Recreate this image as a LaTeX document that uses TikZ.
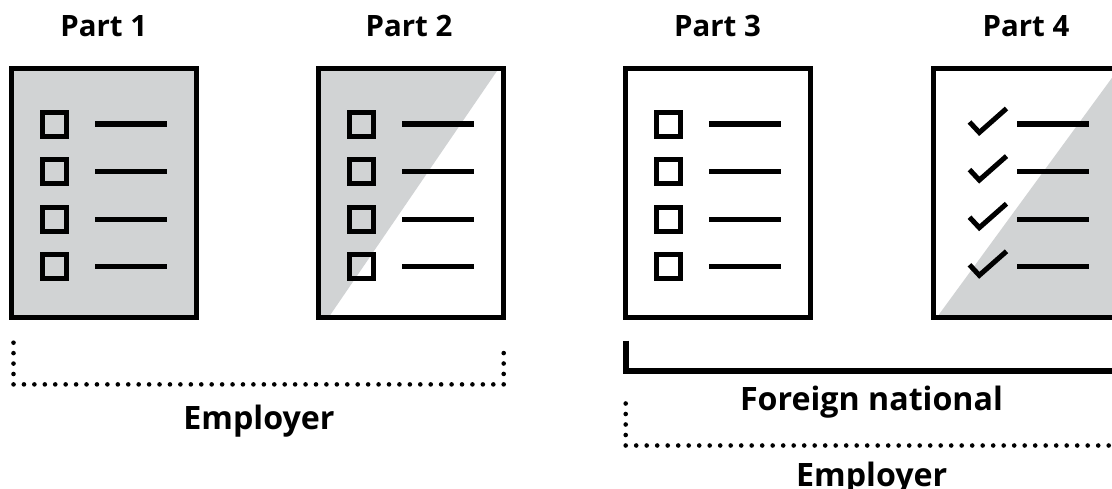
\documentclass[tikz,border=0pt]{standalone}
\usepackage{fontspec}
\setmainfont{Open Sans}
\definecolor{docgray}{RGB}{209,211,212}
\begin{document}
\begin{tikzpicture}[x=1pt,y=-1pt,
  docframe/.style={draw=black,line width=5.2pt},
  boxmark/.style={draw=black,line width=5pt},
  textline/.style={draw=black,line width=5.2pt},
  checkmark/.style={draw=black,line width=5pt,line join=miter},
  partlabel/.style={font=\bfseries\fontsize{29.4}{30}\selectfont,anchor=base,inner sep=0pt},
  grouplabel/.style={font=\bfseries\fontsize{32.2}{34}\selectfont,anchor=base,inner sep=0pt},
  dotlineA/.style={line width=4.6pt,line cap=round,dash pattern=on 0pt off 10.43pt},
  dotlineB/.style={line width=4.6pt,line cap=round,dash pattern=on 0pt off 10.5pt},
  solidbracket/.style={line width=5.8pt,line join=miter}]
\useasboundingbox (0,0) rectangle (1112,488);

% Part 1
\begin{scope}[shift={(11.3,68.6)}]
  \fill[docgray] (0,0) rectangle (185.4,249.1);
  \draw[docframe] (0,0) rectangle (185.4,249.1);
  \foreach \r in {55.4,103,150.6,198.2} {
    \draw[boxmark] (31.4,\r-12) rectangle (55.4,\r+12);
    \draw[textline] (83.7,\r) -- (155.7,\r);
  }
\end{scope}

% Part 2
\begin{scope}[shift={(318.3,68.6)}]
  \fill[docgray] (0,0) -- (180.3,0) -- (10.1,249.1) -- (0,249.1) -- cycle;
  \draw[docframe] (0,0) rectangle (185.4,249.1);
  \foreach \r in {55.4,103,150.6,198.2} {
    \draw[boxmark] (31.4,\r-12) rectangle (55.4,\r+12);
    \draw[textline] (83.7,\r) -- (155.7,\r);
  }
\end{scope}

% Part 3
\begin{scope}[shift={(625.3,68.6)}]
  \draw[docframe] (0,0) rectangle (185.4,249.1);
  \foreach \r in {55.4,103,150.6,198.2} {
    \draw[boxmark] (31.4,\r-12) rectangle (55.4,\r+12);
    \draw[textline] (83.7,\r) -- (155.7,\r);
  }
\end{scope}

% Part 4
\begin{scope}[shift={(933.3,68.6)}]
  \fill[docgray] (3.3,249.1) -- (185.4,0) -- (185.4,249.1) -- cycle;
  \draw[docframe] (0,0) rectangle (185.4,249.1);
  \foreach \r in {55.4,103,150.6,198.2} {
    \draw[checkmark] (36.2,\r-2) -- (46,\r+8.5) -- (73.2,\r-15.5);
    \draw[textline] (83.7,\r) -- (155.7,\r);
  }
\end{scope}

% labels
\node[partlabel] (p1) at (103.7,36) {Part 1};
\node[partlabel] (p2) at (409,36) {Part 2};
\node[partlabel] (p3) at (717.5,36) {Part 3};
\node[partlabel] (p4) at (1026,36) {Part 4};

% brackets
\coordinate (a1) at (13.5,342.7);
\coordinate (a2) at (13.5,384.4);
\coordinate (a3) at (503.7,384.4);
\coordinate (a4) at (503.7,342.7);
\draw[dotlineA] (a1) -- (a2) -- (a3) -- (a4);
\node[grouplabel] (emp1) at (259,429.3) {Employer};

\coordinate (b1) at (626.3,340.7);
\coordinate (b2) at (626.3,371);
\coordinate (b3) at (1130,371);
\draw[solidbracket] (b1) -- (b2) -- (b3);
\node[grouplabel] (fn) at (871.5,410) {Foreign national};

\coordinate (c1) at (625.7,403.5);
\coordinate (c2) at (625.7,445.5);
\coordinate (c3) at (1130,445.5);
\draw[dotlineB] (c1) -- (c2) -- (c3);
\node[grouplabel] (emp2) at (871.7,486.5) {Employer};
\end{tikzpicture}
\end{document}
